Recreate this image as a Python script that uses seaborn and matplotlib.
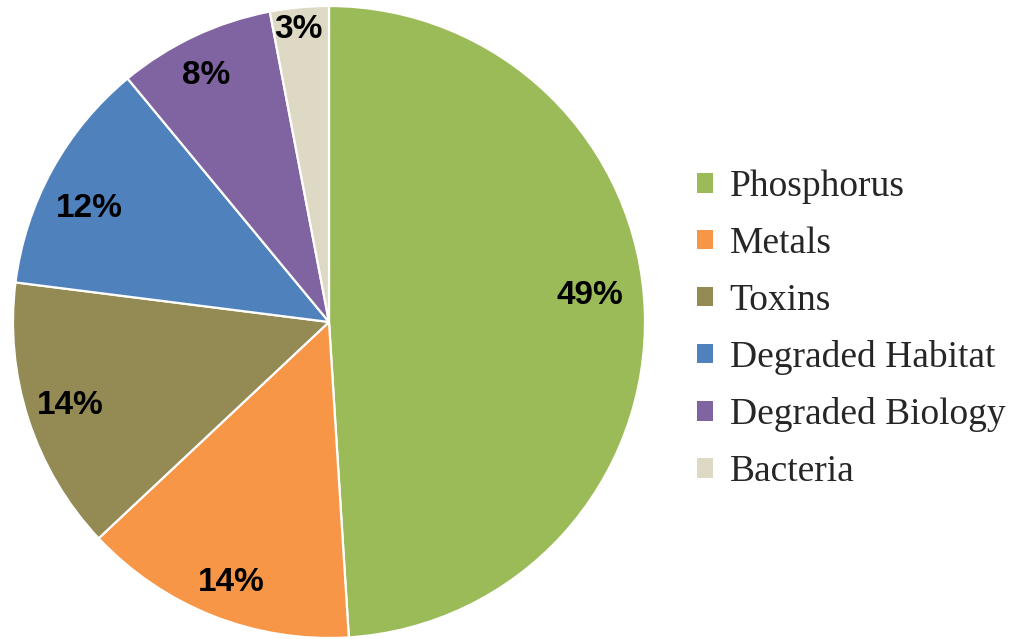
import numpy as np
import matplotlib
matplotlib.use("Agg")
import matplotlib.pyplot as plt
import seaborn as sns
from matplotlib.patches import Patch

categories = ["Phosphorus", "Metals", "Toxins", "Degraded Habitat",
              "Degraded Biology", "Bacteria"]
shares = [49, 14, 14, 12, 8, 3]
hex_colors = ["#9BBB59", "#F79646", "#948A54", "#4F81BD", "#8064A2", "#DDD9C4"]

sns.set_theme(style="white")
palette = sns.color_palette(hex_colors)

fig = plt.figure(figsize=(10.23, 6.39), dpi=100)
W, H = 1023, 639
cx, cy, r = 329, 322, 316
ax = fig.add_axes([(cx - r) / W, (H - cy - r) / H, 2 * r / W, 2 * r / H])

wedges, _ = ax.pie(shares, colors=palette, startangle=90, counterclock=False,
                   radius=1.0,
                   wedgeprops=dict(edgecolor="white", linewidth=1.6))
ax.set_xlim(-1, 1)
ax.set_ylim(-1, 1)
ax.set_aspect("equal")
ax.axis("off")

# label placement: radial distance and small angular nudge per slice
label_dist = [0.83, 0.88, 0.86, 0.84, 0.87, 0.93]
label_nudge = [4.0, 1.0, 0.0, 3.5, 1.3, 0.5]
for w, v, d, n in zip(wedges, shares, label_dist, label_nudge):
    ang = np.deg2rad((w.theta1 + w.theta2) / 2 + n)
    ax.text(d * np.cos(ang), d * np.sin(ang), f"{v}%", ha="center", va="center",
            fontsize=24, fontweight="bold", family="Liberation Sans", color="black")

handles = [Patch(facecolor=c, edgecolor="none") for c in palette]
fig.legend(handles, categories, loc="center left",
           bbox_to_anchor=(682 / W, 1 - 329.5 / H), frameon=False,
           prop=dict(family="Liberation Serif", size=27),
           handlelength=0.42, handleheight=0.42, handletextpad=0.45,
           labelspacing=0.595, borderaxespad=0)

fig.savefig("out.png", dpi=100, facecolor="white")
